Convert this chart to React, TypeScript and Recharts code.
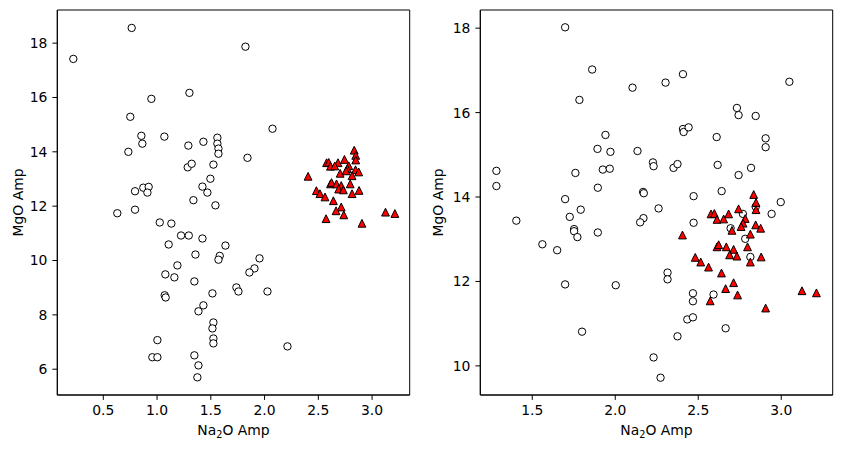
import { ScatterChart, Scatter, XAxis, YAxis, ReferenceArea } from 'recharts';

// left panel, open circles
const leftNa2O = [
  0.221, 0.764, 1.822, 1.301, 0.947, 0.751, 2.074, 0.854, 0.863, 1.068, 0.733, 1.291, 1.431, 1.561,
  1.561, 1.571, 1.571, 1.841, 1.285, 1.322, 1.524, 1.496, 1.422, 1.468, 1.338, 1.543, 0.795, 0.872,
  0.922, 0.91, 0.63, 0.795, 1.025, 1.133, 1.223, 1.295, 1.108, 1.422, 1.636, 1.357, 1.583, 1.571,
  1.953, 1.189, 1.077, 1.161, 1.347, 1.906, 1.859, 1.738, 1.757, 2.027, 1.515, 1.071, 1.08, 1.431,
  1.385, 1.524, 1.515, 1.524, 1.524, 1.003, 0.956, 1.003, 1.347, 1.385, 1.375, 2.213,
];
const leftMgO = [
  17.42, 18.56, 17.87, 16.17, 15.95, 15.29, 14.85, 14.59, 14.3, 14.56, 14.0, 14.23, 14.37, 14.52,
  14.3, 14.12, 13.93, 13.78, 13.43, 13.56, 13.53, 13.01, 12.72, 12.5, 12.22, 12.03, 12.55, 12.68,
  12.71, 12.5, 11.74, 11.87, 11.4, 11.36, 10.92, 10.92, 10.59, 10.81, 10.55, 10.22, 10.17, 10.03,
  10.08, 9.82, 9.49, 9.38, 9.23, 9.71, 9.56, 9.01, 8.86, 8.86, 8.79, 8.72, 8.64, 8.35,
  8.13, 7.72, 7.5, 7.13, 6.95, 7.07, 6.44, 6.44, 6.51, 6.14, 5.7, 6.84,
];

// right panel, open circles
const rightNa2O = [
  1.698, 1.861, 1.784, 2.104, 2.303, 2.408, 3.049, 2.733, 2.743, 2.846, 2.408, 2.412, 2.442, 2.611,
  2.906, 2.906, 1.941, 1.893, 1.971, 2.134, 2.227, 2.231, 2.351, 2.375, 2.617, 2.818, 2.743, 2.641,
  1.284, 1.284, 1.76, 1.925, 1.967, 1.895, 2.168, 2.172, 2.472, 2.997, 2.942, 1.698, 1.792, 1.726,
  1.404, 2.261, 2.17, 2.15, 2.472, 2.769, 2.695, 2.783, 2.814, 2.846, 1.752, 1.752, 1.772, 1.895,
  1.561, 1.65, 1.698, 2.003, 1.8, 2.315, 2.315, 2.468, 2.468, 2.592, 2.434, 2.468, 2.375, 2.665,
  2.231, 2.273,
];
const rightMgO = [
  18.02, 17.02, 16.3, 16.59, 16.71, 16.91, 16.73, 16.11, 15.94, 15.92, 15.61, 15.54, 15.65, 15.42,
  15.39, 15.18, 15.47, 15.14, 15.07, 15.09, 14.82, 14.73, 14.69, 14.78, 14.76, 14.69, 14.52, 14.14,
  14.62, 14.26, 14.57, 14.65, 14.67, 14.22, 14.12, 14.09, 14.02, 13.88, 13.6, 13.95, 13.7, 13.53,
  13.44, 13.73, 13.5, 13.4, 13.39, 13.6, 13.26, 13.01, 12.58, 13.77, 13.24, 13.19, 13.05, 13.16,
  12.88, 12.74, 11.93, 11.91, 10.81, 12.21, 12.05, 11.72, 11.53, 11.69, 11.1, 11.15, 10.7, 10.89,
  10.2, 9.72,
];

// red triangles, same in both panels
const triNa2O = [
  2.405, 2.482, 2.515, 2.562, 2.64, 2.713, 2.665, 2.737, 2.572, 2.906, 3.125, 3.212, 2.577, 2.597,
  2.683, 2.613, 2.653, 2.743, 2.783, 2.77, 2.758, 2.834, 2.848, 2.848, 2.846, 2.876, 2.703, 2.814,
  2.797, 2.613, 2.623, 2.669, 2.713, 2.689, 2.733, 2.814, 2.879,
];
const triMgO = [
  13.1, 12.57, 12.46, 12.34, 12.2, 11.97, 11.83, 11.68, 11.54, 11.37, 11.78, 11.73, 13.6, 13.61,
  13.6, 13.47, 13.48, 13.72, 13.49, 13.38, 13.3, 14.06, 13.87, 13.7, 13.34, 13.26, 13.21, 13.12,
  12.82, 12.82, 12.87, 12.82, 12.76, 12.63, 12.6, 12.46, 12.58,
];

const leftXTicks = [0.5, 1.0, 1.5, 2.0, 2.5, 3.0];
const leftYTicks = [6, 8, 10, 12, 14, 16, 18];
const rightXTicks = [1.5, 2.0, 2.5, 3.0];
const rightYTicks = [10, 12, 14, 16, 18];

const toPoints = (xs: number[], ys: number[]) => xs.map((x, i) => ({ x, y: ys[i] }));

const FONT = 'DejaVu Sans';
const FS = 13.9;
const tickStyle = { fill: '#000', fontSize: FS, fontFamily: FONT };

const OpenCircle = (p: any) => (
  <circle cx={p.cx} cy={p.cy} r={3.7} fill="#fff" stroke="#000" strokeWidth={1} />
);

const RedTriangle = (p: any) => {
  const h = 3.9;
  const pts = `${p.cx},${p.cy - h} ${p.cx - h},${p.cy + h} ${p.cx + h},${p.cy + h}`;
  return <polygon points={pts} fill="#ff0000" stroke="#000" strokeWidth={1} strokeLinejoin="miter" />;
};

const xLabel = (props: any) => {
  const vb = props.viewBox;
  const cx = vb.x + vb.width / 2;
  return (
    <text x={cx} y={435} textAnchor="middle" fill="#000" fontSize={FS} fontFamily={FONT}>
      Na
      <tspan dy={3} fontSize={FS * 0.7}>2</tspan>
      <tspan dy={-3}>O Amp</tspan>
    </text>
  );
};

const yLabel = (props: any) => {
  const vb = props.viewBox;
  const cy = vb.y + vb.height / 2;
  return (
    <text
      x={18}
      y={cy}
      transform={`rotate(-90, 18, ${cy})`}
      textAnchor="middle"
      dominantBaseline="central"
      fill="#000"
      fontSize={FS}
      fontFamily={FONT}
    >
      MgO Amp
    </text>
  );
};

interface PanelProps {
  left: number;
  width: number;
  yAxisWidth: number;
  marginRight: number;
  xDomain: [number, number];
  yDomain: [number, number];
  xTicks: number[];
  yTicks: number[];
  circles: { x: number; y: number }[];
}

function Panel({ left, width, yAxisWidth, marginRight, xDomain, yDomain, xTicks, yTicks, circles }: PanelProps) {
  const triangles = toPoints(triNa2O, triMgO);
  return (
    <div style={{ position: 'absolute', left, top: 0 }}>
      <ScatterChart width={width} height={451} margin={{ top: 10, right: marginRight, bottom: 0, left: 0 }}>
        <XAxis
          type="number"
          dataKey="x"
          domain={xDomain}
          ticks={xTicks}
          allowDataOverflow
          height={56}
          tickSize={4.9}
          tickMargin={5}
          tick={tickStyle}
          tickLine={{ stroke: '#000' }}
          axisLine={{ stroke: '#000' }}
          tickFormatter={(v: number) => v.toFixed(1)}
          label={{ content: xLabel }}
        />
        <YAxis
          type="number"
          dataKey="y"
          domain={yDomain}
          ticks={yTicks}
          allowDataOverflow
          width={yAxisWidth}
          tickSize={4.9}
          tickMargin={5}
          tick={tickStyle}
          tickLine={{ stroke: '#000' }}
          axisLine={{ stroke: '#000' }}
          label={{ content: yLabel }}
        />
        <ReferenceArea
          x1={xDomain[0]}
          x2={xDomain[1]}
          y1={yDomain[0]}
          y2={yDomain[1]}
          fill="none"
          fillOpacity={0}
          stroke="#000"
          strokeWidth={1}
          strokeOpacity={1}
        />
        <Scatter data={circles} shape={OpenCircle} isAnimationActive={false} />
        <Scatter data={triangles} shape={RedTriangle} isAnimationActive={false} />
      </ScatterChart>
    </div>
  );
}

export default function App() {
  return (
    <div style={{ position: 'absolute', left: 0, top: 0, width: 842, height: 451, background: '#fff' }}>
      <Panel
        left={0}
        width={420}
        yAxisWidth={57.3}
        marginRight={10.3}
        xDomain={[0.072, 3.35]}
        yDomain={[5.05, 19.22]}
        xTicks={leftXTicks}
        yTicks={leftYTicks}
        circles={toPoints(leftNa2O, leftMgO)}
      />
      <Panel
        left={420}
        width={422}
        yAxisWidth={60.3}
        marginRight={9.3}
        xDomain={[1.187, 3.31]}
        yDomain={[9.31, 18.43]}
        xTicks={rightXTicks}
        yTicks={rightYTicks}
        circles={toPoints(rightNa2O, rightMgO)}
      />
    </div>
  );
}
